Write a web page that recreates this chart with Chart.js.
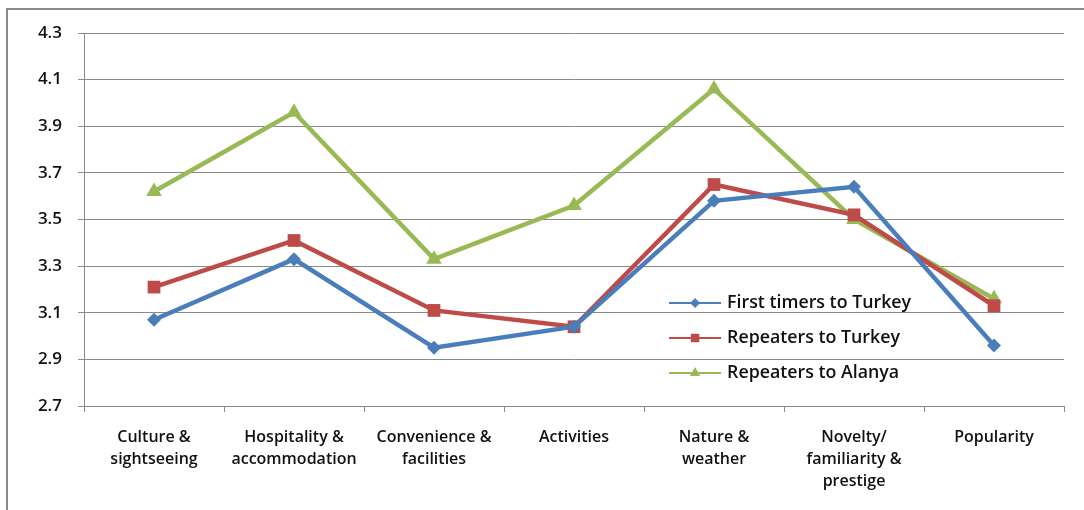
<!DOCTYPE html>
<html>
<head>
<meta charset="utf-8">
<script src="https://cdn.jsdelivr.net/npm/chart.js@4/dist/chart.umd.min.js"></script>
<style>
  html, body { margin: 0; padding: 0; background: #fff; }
  #wrap { position: relative; width: 1084px; height: 510px; }
  #frame { position: absolute; left: 6px; top: 8px; width: 1100px; height: 520px;
           border-left: 2px solid #8a8a8a; border-top: 2px solid #8a8a8a; }
  canvas { position: absolute; left: 0; top: 0; }
</style>
</head>
<body>
<div id="wrap">
  <div id="frame"></div>
  <canvas id="chart" width="1084" height="510"></canvas>
</div>
<script>
const categories = [
  ['Culture &', 'sightseeing'],
  ['Hospitality &', 'accommodation'],
  ['Convenience &', 'facilities'],
  'Activities',
  ['Nature &', 'weather'],
  ['Novelty/', 'familiarity &', 'prestige'],
  'Popularity'
];
const firstTimersTurkey = [3.07, 3.33, 2.95, 3.04, 3.58, 3.64, 2.96];
const repeatersTurkey   = [3.21, 3.41, 3.11, 3.04, 3.65, 3.52, 3.13];
const repeatersAlanya   = [3.62, 3.96, 3.33, 3.56, 4.06, 3.50, 3.16];
const yTicks = [2.7, 2.9, 3.1, 3.3, 3.5, 3.7, 3.9, 4.1, 4.3];

const FONT = "'Open Sans', 'DejaVu Sans', sans-serif";

// legend drawn inside the plot area, lower right
const insideLegend = {
  id: 'insideLegend',
  afterDraw(chart) {
    const ctx = chart.ctx;
    const area = chart.chartArea;
    const x0 = area.left + (area.right - area.left) * 0.597;
    const rows = [area.top + 270, area.top + 305, area.top + 340];
    chart.data.datasets.forEach((ds, i) => {
      const y = rows[i];
      ctx.save();
      ctx.strokeStyle = ds.borderColor;
      ctx.lineWidth = 2;
      ctx.beginPath();
      ctx.moveTo(x0, y);
      ctx.lineTo(x0 + 52, y);
      ctx.stroke();
      ctx.fillStyle = ds.backgroundColor;
      Chart.helpers.drawPoint(ctx, {
        pointStyle: ds.pointStyle,
        radius: ds.legendRadius,
        borderWidth: 0
      }, x0 + 26, y);
      ctx.fillStyle = '#111';
      ctx.font = '600 17.8px ' + FONT;
      ctx.textBaseline = 'middle';
      ctx.fillText(ds.label, x0 + 58, y);
      ctx.restore();
    });
  }
};

new Chart(document.getElementById('chart'), {
  type: 'line',
  data: {
    labels: categories,
    datasets: [
      { label: 'First timers to Turkey', data: firstTimersTurkey,
        borderColor: '#4a7ebb', backgroundColor: '#4a7ebb',
        pointStyle: 'rectRot', pointRadius: 7, legendRadius: 5 },
      { label: 'Repeaters to Turkey', data: repeatersTurkey,
        borderColor: '#be4b48', backgroundColor: '#be4b48',
        pointStyle: 'rect', pointRadius: 9, legendRadius: 6 },
      { label: 'Repeaters to Alanya', data: repeatersAlanya,
        borderColor: '#98b954', backgroundColor: '#98b954',
        pointStyle: 'triangle', pointRadius: 9, legendRadius: 6 }
    ].map(d => Object.assign({ borderWidth: 4.5, tension: 0, pointBorderWidth: 0,
                               pointHoverRadius: d.pointRadius }, d))
  },
  options: {
    responsive: false,
    animation: false,
    layout: { padding: { top: 33, right: 20, left: 0, bottom: 0 } },
    scales: {
      x: {
        offset: true,
        grid: { offset: true, drawOnChartArea: false, color: '#8a8a8a', tickLength: 6 },
        border: { color: '#8a8a8a', width: 1 },
        ticks: { color: '#111', font: { family: FONT, size: 16, weight: '600', lineHeight: 1.38 },
                 padding: 14, maxRotation: 0, autoSkip: false },
        afterFit: s => { s.height = 104; }
      },
      y: {
        min: 2.7, max: 4.3,
        afterBuildTicks: s => { s.ticks = yTicks.map(v => ({ value: v })); },
        grid: { color: '#8a8a8a', tickLength: 6 },
        border: { color: '#8a8a8a', width: 1 },
        ticks: { color: '#111', font: { family: FONT, size: 17, weight: '600' }, padding: 16,
                 callback: v => v.toFixed(1) },
        afterFit: s => { s.width = 84; }
      }
    },
    plugins: { legend: { display: false }, tooltip: { enabled: false } }
  },
  plugins: [insideLegend]
});
</script>
</body>
</html>
